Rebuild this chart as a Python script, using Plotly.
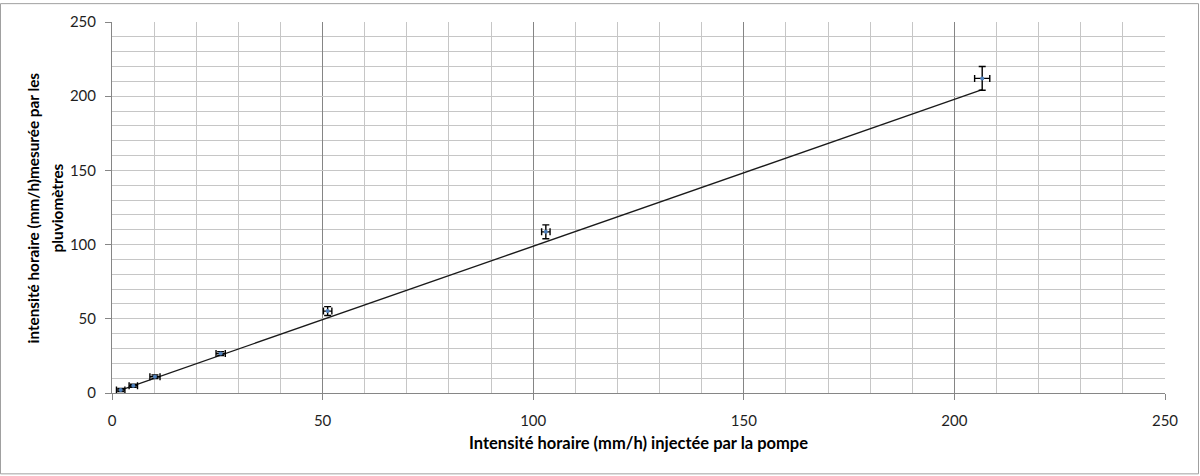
import plotly.graph_objects as go

# Data
x_injected = [2.06, 5.06, 10.2, 25.8, 51.2, 103.0, 206.6]
y_measured = [2.0, 4.9, 10.9, 26.6, 55.2, 108.6, 212.0]
x_error = [1.0, 1.0, 1.2, 1.1, 1.0, 1.0, 1.8]
y_error = [1.0, 1.0, 1.2, 1.3, 3.0, 4.7, 8.0]

trend_x = [2.06, 206.6]
trend_y = [2.0, 204.4]

tick_vals = [0, 50, 100, 150, 200, 250]
tick_text = ["0", "50", "100", "150", "200", "250"]

x_title = "Intensité horaire (mm/h) injectée par la pompe"
y_title_lines = ["intensité horaire (mm/h)mesurée par les", "pluviomètres"]

FONT = "Lato"
W, H = 1200, 476
L, R, T, B = 112, 35, 19, 83
PW, PH = W - L - R, H - T - B

fig = go.Figure()

fig.add_trace(go.Scatter(
    x=trend_x, y=trend_y, mode="lines",
    line=dict(color="#1a1a1a", width=1.3),
    hoverinfo="skip", showlegend=False,
))

fig.add_trace(go.Scatter(
    x=x_injected, y=y_measured, mode="markers",
    marker=dict(size=4, color="#4f81bd"),
    error_x=dict(type="data", array=x_error, visible=True,
                 color="#000000", thickness=1.4, width=3.5),
    error_y=dict(type="data", array=y_error, visible=True,
                 color="#000000", thickness=1.4, width=3.5),
    showlegend=False,
))

axis_common = dict(
    range=[0, 250],
    tickmode="array", tickvals=tick_vals, ticktext=tick_text,
    showline=True, linecolor="#868686", linewidth=1,
    ticks="outside", ticklen=6, tickcolor="#868686", tickwidth=1,
    zeroline=False,
    tickfont=dict(family=FONT, size=15, color="#1f1f1f"),
    minor=dict(dtick=10, tick0=0, showgrid=True, gridcolor="#c6c6c6",
               gridwidth=1, ticks=""),
    fixedrange=True,
)

fig.update_xaxes(**axis_common, showgrid=True, gridcolor="#858585",
                 gridwidth=1, ticklabelstandoff=8)
fig.update_yaxes(**axis_common, showgrid=True, gridcolor="#c6c6c6",
                 gridwidth=1, ticklabelstandoff=6)

annotations = [
    dict(text=x_title, xref="paper", yref="paper",
         x=(638 - L) / PW, y=(T + PH - 443) / PH,
         xanchor="center", yanchor="middle", showarrow=False,
         font=dict(family=FONT, size=16.5, color="#000000", weight="bold")),
    dict(text=y_title_lines[0], xref="paper", yref="paper",
         x=(33 - L) / PW, y=(T + PH - 207) / PH, textangle=-90,
         xanchor="center", yanchor="middle", showarrow=False,
         font=dict(family=FONT, size=15.3, color="#000000", weight="bold")),
    dict(text=y_title_lines[1], xref="paper", yref="paper",
         x=(57 - L) / PW, y=(T + PH - 207) / PH, textangle=-90,
         xanchor="center", yanchor="middle", showarrow=False,
         font=dict(family=FONT, size=15.3, color="#000000", weight="bold")),
]

shapes = [
    dict(type="rect", xref="paper", yref="paper",
         x0=(0.5 - L) / PW, x1=(W - 1.5 - L) / PW,
         y0=(T + PH - (H - 1.5)) / PH, y1=(T + PH - 0.5) / PH,
         line=dict(color="#a0a0a0", width=1), fillcolor="rgba(0,0,0,0)",
         layer="below"),
]

fig.update_layout(
    width=W, height=H,
    margin=dict(l=L, r=R, t=T, b=B),
    paper_bgcolor="#ffffff", plot_bgcolor="#ffffff",
    annotations=annotations, shapes=shapes,
    showlegend=False,
)

fig.write_html(
    "out.html",
    config={"displayModeBar": False},
    post_script="document.body.style.margin='0px';"
                "document.body.style.overflow='hidden';",
)
